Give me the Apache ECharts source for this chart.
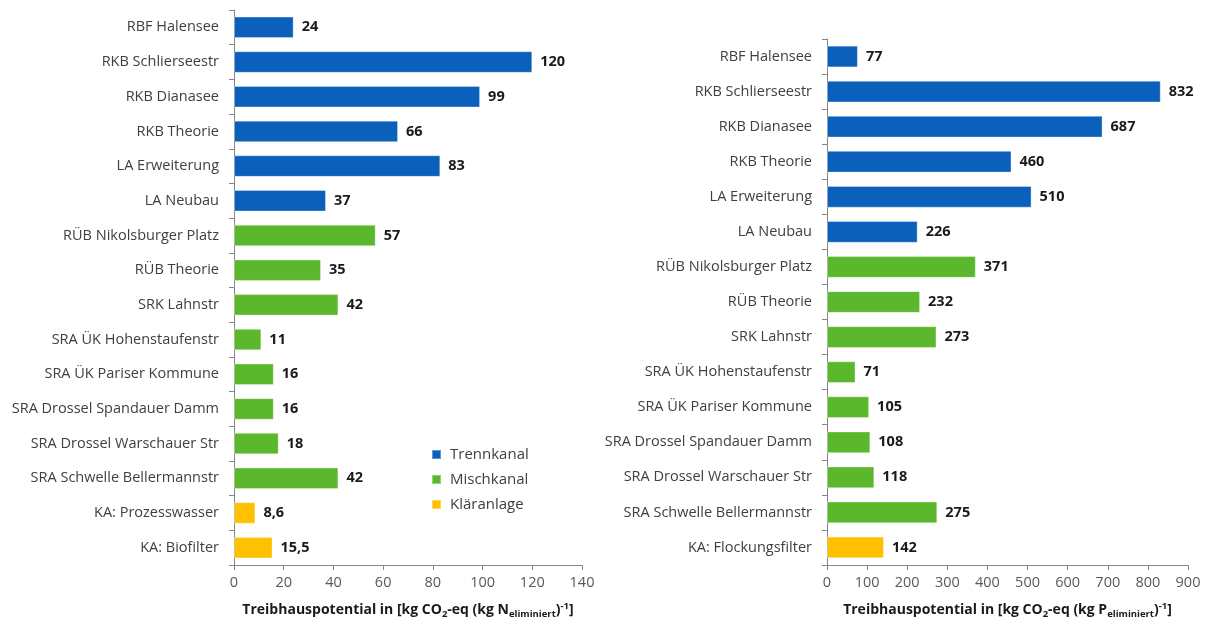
<!DOCTYPE html>
<html><head><meta charset="utf-8">
<script src="https://cdn.jsdelivr.net/npm/echarts@6/dist/echarts.min.js"></script>
<style>html,body{margin:0;padding:0;background:#fff}#c{width:1212px;height:624px}</style>
</head><body><div id="c"></div>
<script>
// Left chart (N)
const catsN = ['RBF Halensee','RKB Schlierseestr','RKB Dianasee','RKB Theorie','LA Erweiterung','LA Neubau','RÜB Nikolsburger Platz','RÜB Theorie','SRK Lahnstr','SRA ÜK Hohenstaufenstr','SRA ÜK Pariser Kommune','SRA Drossel Spandauer Damm','SRA Drossel Warschauer Str','SRA Schwelle Bellermannstr','KA: Prozesswasser','KA: Biofilter'];
const valsN = [24,120,99,66,83,37,57,35,42,11,16,16,18,42,8.6,15.5];
const groupN = ['T','T','T','T','T','T','M','M','M','M','M','M','M','M','K','K'];
// Right chart (P)
const catsP = ['RBF Halensee','RKB Schlierseestr','RKB Dianasee','RKB Theorie','LA Erweiterung','LA Neubau','RÜB Nikolsburger Platz','RÜB Theorie','SRK Lahnstr','SRA ÜK Hohenstaufenstr','SRA ÜK Pariser Kommune','SRA Drossel Spandauer Damm','SRA Drossel Warschauer Str','SRA Schwelle Bellermannstr','KA: Flockungsfilter'];
const valsP = [77,832,687,460,510,226,371,232,273,71,105,108,118,275,142];
const groupP = ['T','T','T','T','T','T','M','M','M','M','M','M','M','M','K'];
const groups = [['T','Trennkanal','#0A60BA'],['M','Mischkanal','#5BB82C'],['K','Kläranlage','#FFC000']];

const FONT = 'Open Sans';
const fmt = v => String(v).replace('.', ',');

function series(vals, grp, idx) {
  return groups.map(([g, name, color]) => ({
    name, type: 'bar', stack: 's' + idx, xAxisIndex: idx, yAxisIndex: idx,
    barCategoryGap: '38%',
    data: vals.map((v, i) => grp[i] === g ? v : null),
    itemStyle: { color, borderColor: 'rgba(255,255,255,0.35)', borderWidth: 1 },
    label: { show: true, position: 'right', distance: 8, fontFamily: FONT, fontWeight: 'bold', fontSize: 14.5, color: '#1a1a1a',
      formatter: p => fmt(p.value) },
    emphasis: { disabled: true }
  }));
}

function axisName(sub) {
  return '{b|Treibhauspotential in [kg CO}{s|2}{b|-eq (kg ' + sub + '}{s|eliminiert}{b|)}{p|-1}{b|]}';
}
const rich = {
  b: { fontFamily: FONT, fontWeight: 'bold', fontSize: 14, color: '#1a1a1a', lineHeight: 18 },
  s: { fontFamily: FONT, fontWeight: 'bold', fontSize: 9.5, color: '#1a1a1a', padding: [8, 0, 0, 0], lineHeight: 18 },
  p: { fontFamily: FONT, fontWeight: 'bold', fontSize: 9.5, color: '#1a1a1a', padding: [0, 0, 8, 0], lineHeight: 18 }
};

function xAxis(idx, max, interval, subject) {
  return {
    gridIndex: idx, type: 'value', min: 0, max, interval,
    splitLine: { show: false },
    axisLine: { show: true, lineStyle: { color: '#868686' } },
    axisTick: { show: true, length: 5, lineStyle: { color: '#868686' } },
    axisLabel: { fontFamily: FONT, fontSize: 14.5, color: '#595959', margin: 10 },
    name: axisName(subject), nameLocation: 'middle', nameGap: 36,
    nameTextStyle: { rich }
  };
}
function yAxis(idx, cats) {
  return {
    gridIndex: idx, type: 'category', data: cats, inverse: true,
    axisLine: { show: true, lineStyle: { color: '#868686' } },
    axisTick: { show: true, length: 5, lineStyle: { color: '#868686' } },
    axisLabel: { fontFamily: FONT, fontSize: 14.5, color: '#404040', margin: 15 }
  };
}

const chart = echarts.init(document.getElementById('c'), null, { renderer: 'canvas' });
chart.setOption({
  animation: false,
  backgroundColor: '#fff',
  grid: [
    { left: 234, right: 630, top: 10, bottom: 58 },
    { left: 827, right: 24, top: 39, bottom: 58 }
  ],
  xAxis: [xAxis(0, 140, 20, 'N'), xAxis(1, 900, 100, 'P')],
  yAxis: [yAxis(0, catsN), yAxis(1, catsP)],
  legend: {
    orient: 'vertical', left: 426, top: 442, itemGap: 10, itemWidth: 9, itemHeight: 9,
    icon: 'rect', data: groups.map(g => g[1]),
    textStyle: { fontFamily: FONT, fontSize: 15, color: '#404040', padding: [0, 0, 0, 4] },
    selectedMode: false
  },
  series: [...series(valsN, groupN, 0), ...series(valsP, groupP, 1)]
});
</script></body></html>
